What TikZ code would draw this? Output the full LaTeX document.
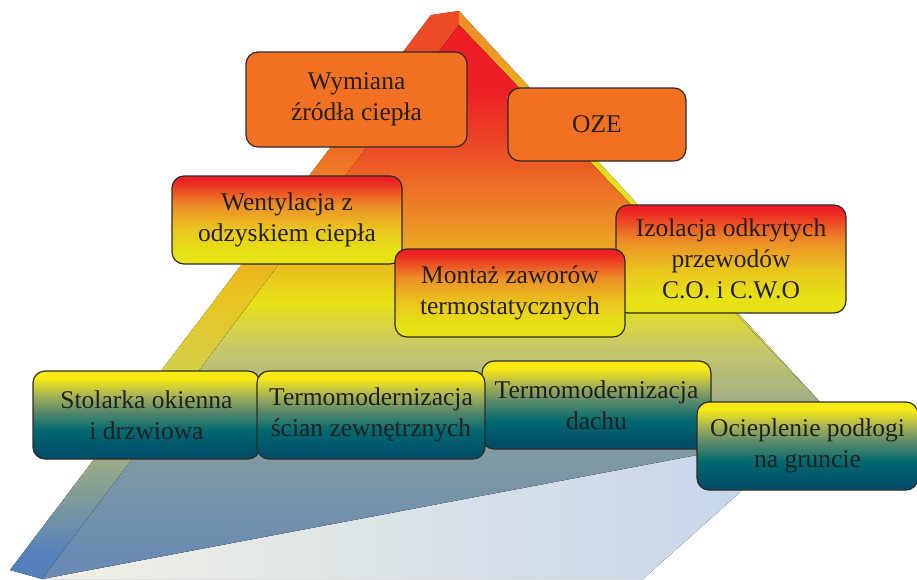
\documentclass[tikz,border=0pt]{standalone}
\usepackage{fontspec}
\setmainfont{Liberation Serif}
\usetikzlibrary{positioning}

\definecolor{inkgrey}{RGB}{35,31,32}
\definecolor{rimgrey}{RGB}{45,42,42}
\definecolor{flatorange}{RGB}{241,112,34}
\definecolor{hotred}{RGB}{237,30,36}
\definecolor{redorange}{RGB}{236,75,38}
\definecolor{midorange}{RGB}{236,145,38}
\definecolor{yelorange}{RGB}{234,196,30}
\definecolor{hotyellow}{RGB}{231,226,22}
\definecolor{khaki}{RGB}{200,200,105}
\definecolor{greyblue}{RGB}{130,155,160}
\definecolor{baseblue}{RGB}{105,138,178}
\definecolor{bandolive}{RGB}{210,208,75}
\definecolor{bandgreen}{RGB}{150,170,135}
\definecolor{bandblue}{RGB}{85,128,190}
\definecolor{boxyellow}{RGB}{250,234,20}
\definecolor{boxolive}{RGB}{165,178,85}
\definecolor{boxgreen}{RGB}{95,140,105}
\definecolor{boxteal}{RGB}{0,104,112}
\definecolor{boxdeep}{RGB}{0,78,104}
\definecolor{floorcream}{RGB}{240,240,228}
\definecolor{floorblue}{RGB}{198,213,234}

\pgfdeclareverticalshading{faceshade}{100bp}{color(0bp)=(baseblue); color(27bp)=(baseblue); color(37bp)=(greyblue); color(46bp)=(khaki); color(50bp)=(hotyellow); color(57bp)=(midorange); color(64bp)=(redorange); color(69bp)=(hotred); color(100bp)=(hotred)}
\pgfdeclareverticalshading{bandshade}{100bp}{color(0bp)=(bandblue); color(27bp)=(bandblue); color(35bp)=(bandgreen); color(43bp)=(bandolive); color(50bp)=(yelorange); color(58bp)=(midorange); color(67bp)=(redorange); color(100bp)=(redorange)}
\pgfdeclareverticalshading{stripshade}{100bp}{color(0bp)=(khaki); color(38bp)=(khaki); color(53bp)=(hotyellow); color(72bp)=(midorange); color(100bp)=(midorange)}
\pgfdeclareverticalshading{warmshade}{100bp}{color(0bp)=(hotyellow); color(32bp)=(hotyellow); color(45bp)=(yelorange); color(58bp)=(midorange); color(73bp)=(hotred); color(100bp)=(hotred)}
\pgfdeclareverticalshading{coolshade}{100bp}{color(0bp)=(boxdeep); color(28bp)=(boxdeep); color(41bp)=(boxteal); color(53bp)=(boxgreen); color(61bp)=(boxolive); color(71bp)=(boxyellow); color(100bp)=(boxyellow)}

\tikzset{
 plate/.style={draw=rimgrey,line width=1.2pt,rounded corners=12pt,align=center,text=inkgrey,inner sep=0pt},
 flatbox/.style={plate,fill=flatorange},
 warmbox/.style={plate,shade,shading=warmshade},
 coolbox/.style={plate,shade,shading=coolshade}
}

\begin{document}
\begin{tikzpicture}[x=1pt,y=-1pt,font=\fontsize{25.5}{31}\selectfont,line width=.6pt]
\useasboundingbox (0,0) rectangle (917,579);
\fill[left color=floorcream,right color=floorblue] (42,579) -- (697,455) -- (765,470) -- (643,579) -- cycle;
\fill[shading=bandshade] (431,15) -- (459,11) -- (459,25) -- (42,579) -- (10,570) -- cycle;
\fill[shading=stripshade] (459,11) -- (820,402) -- (459,25) -- cycle;
\fill[shading=faceshade] (459,25) -- (820,402) -- (697,455) -- (42,579) -- cycle;
\foreach \name/\cx/\cy/\w/\h/\look/\txt in {
 wymiana/356.5/99.5/221/95/flatbox/{Wymiana\\źródła ciepła},
 oze/597/124.5/178/73/flatbox/{OZE},
 wentylacja/287/220/230/88/warmbox/{Wentylacja z\\odzyskiem ciepła},
 izolacja/731/259/230/108/warmbox/{Izolacja odkrytych\\przewodów\\C.O. i C.W.O},
 montaz/510/293/230/88/warmbox/{Montaż zaworów\\termostatycznych},
 stolarka/146.5/415/227/88/coolbox/{Stolarka okienna\\i drzwiowa},
 dach/596.5/405/229/88/coolbox/{Termomodernizacja\\dachu},
 sciany/371/415/228/88/coolbox/{Termomodernizacja\\ścian zewnętrznych},
 posadzka/807.5/446/221/88/coolbox/{Ocieplenie podłogi\\na gruncie}}{
 \node[\look,minimum width=\w,minimum height=\h] (\name) at (\cx,\cy) {\txt};
}
\end{tikzpicture}
\end{document}
